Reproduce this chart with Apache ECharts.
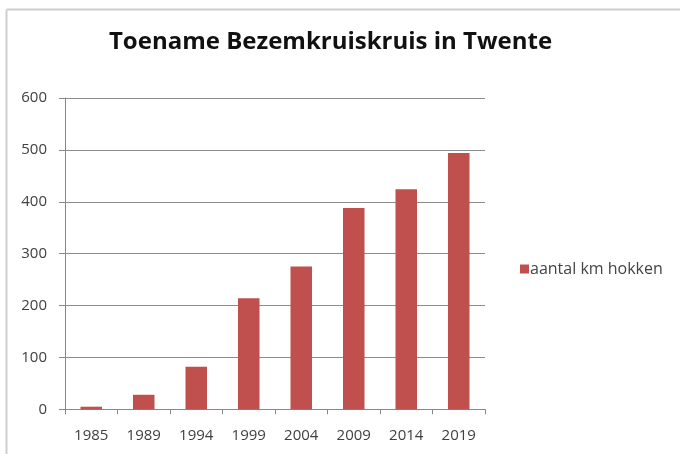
<!DOCTYPE html>
<html>
<head>
<meta charset="utf-8">
<script src="https://cdn.jsdelivr.net/npm/echarts@6/dist/echarts.min.js"></script>
<style>
html,body{margin:0;padding:0;background:#fff;}
#c{width:680px;height:454px;}
</style>
</head>
<body>
<div id="c"></div>
<script>
var categories = ['1985','1989','1994','1999','2004','2009','2014','2019'];
var values = [5, 28, 82, 214, 275, 388, 424, 494];
var seriesName = 'aantal km hokken';
var titleText = 'Toename Bezemkruiskruis in Twente';

var chart = echarts.init(document.getElementById('c'));
chart.setOption({
  backgroundColor: '#fff',
  animation: false,
  title: {
    text: titleText,
    left: 325.5, textAlign: 'center',
    top: 25,
    textStyle: { fontFamily: 'Open Sans', fontWeight: 'bold', fontSize: 24, color: '#111' }
  },
  legend: {
    orient: 'vertical',
    left: 515, top: 256,
    itemWidth: 9, itemHeight: 9, itemGap: 4,
    icon: 'rect',
    textStyle: { fontFamily: 'Open Sans', fontSize: 16, color: '#444', padding: [0,0,0,-4] },
    data: [seriesName]
  },
  grid: { left: 65, right: 680 - 485, top: 98, bottom: 454 - 409.3, containLabel: false },
  xAxis: {
    type: 'category',
    data: categories,
    axisLine: { show: true, lineStyle: { color: '#888', width: 1 } },
    axisTick: { show: true, alignWithLabel: false, length: 5, lineStyle: { color: '#888' } },
    axisLabel: { fontFamily: 'Open Sans', fontSize: 15, color: '#404040', margin: 19 }
  },
  yAxis: {
    type: 'value',
    min: 0, max: 600, interval: 100,
    axisLine: { show: true, lineStyle: { color: '#888', width: 1 } },
    axisTick: { show: true, length: 6, inside: false, lineStyle: { color: '#888' } },
    axisLabel: { fontFamily: 'Open Sans', fontSize: 15, color: '#404040', margin: 18 },
    splitLine: { show: true, lineStyle: { color: '#8c8c8c', width: 1 } }
  },
  series: [{
    name: seriesName,
    type: 'bar',
    data: values,
    barWidth: '41%',
    itemStyle: { color: '#C0504D' }
  }],
  graphic: [
    { type: 'line', shape: { x1: 6.5, y1: 9.5, x2: 680, y2: 9.5 }, style: { stroke: '#cfcfcf', lineWidth: 2 }, silent: true },
    { type: 'line', shape: { x1: 6.5, y1: 9.5, x2: 6.5, y2: 454 }, style: { stroke: '#cfcfcf', lineWidth: 2 }, silent: true }
  ]
});
</script>
</body>
</html>
